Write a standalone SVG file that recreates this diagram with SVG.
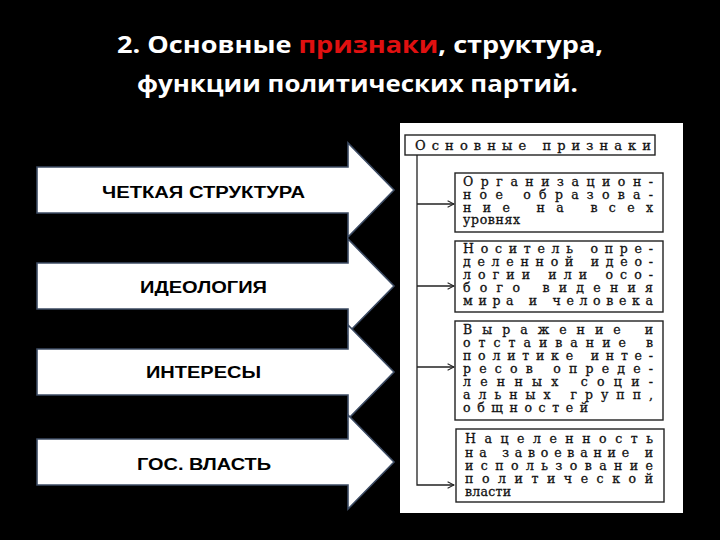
<svg xmlns="http://www.w3.org/2000/svg" width="720" height="540" viewBox="0 0 720 540">
<style>
.title{font-family:"Open Sans","Liberation Sans",sans-serif;font-weight:bold;font-size:24px;fill:#ffffff}
.arrow{fill:#ffffff;stroke:#3c4b63;stroke-width:1.6;stroke-linejoin:miter}
.alabel{font-family:"Liberation Sans",Arial,sans-serif;font-weight:bold;font-size:16px;fill:#000000}
.box{fill:#ffffff;stroke:#222222;stroke-width:1.4}
.bt{font-family:"DejaVu Serif","Liberation Serif",serif;font-size:12.5px;fill:#111111;stroke:#111111;stroke-width:0.3}
.hd{font-family:"DejaVu Serif","Liberation Serif",serif;font-size:13px;fill:#111111;stroke:#111111;stroke-width:0.3}
.conn{fill:none;stroke:#222222;stroke-width:1.3}
</style>
<defs>
<marker id="oa" viewBox="0 0 10 10" refX="9" refY="5" markerWidth="8" markerHeight="8" markerUnits="userSpaceOnUse" orient="auto">
<path d="M1,1 L9,5 L1,9" fill="none" stroke="#222222" stroke-width="1.3"/>
</marker>
</defs>
<rect x="0" y="0" width="720" height="540" fill="#000000"/>
<g id="title">
<text class="title" x="117" y="53" textLength="486" lengthAdjust="spacingAndGlyphs">2. Основные <tspan fill="#e01010">признаки</tspan>, структура,</text>
<text class="title" x="137" y="92" textLength="441" lengthAdjust="spacingAndGlyphs">функции политических партий.</text>
</g>
<g id="arrow1">
<path class="arrow" d="M37,167 H348 V143 L394,190 L348,237 V213 H37 Z"/>
<text class="alabel" x="102" y="198" textLength="203" lengthAdjust="spacingAndGlyphs">ЧЕТКАЯ СТРУКТУРА</text>
</g>
<g id="arrow2">
<path class="arrow" d="M37,263 H348 V239 L394,286 L348,333 V309 H37 Z"/>
<text class="alabel" x="140" y="293" textLength="127" lengthAdjust="spacingAndGlyphs">ИДЕОЛОГИЯ</text>
</g>
<g id="arrow3">
<path class="arrow" d="M37,349 H348 V325 L394,372 L348,419 V395 H37 Z"/>
<text class="alabel" x="146" y="378" textLength="115" lengthAdjust="spacingAndGlyphs">ИНТЕРЕСЫ</text>
</g>
<g id="arrow4">
<path class="arrow" d="M37,439 H348 V415 L394,462 L348,509 V485 H37 Z"/>
<text class="alabel" x="137" y="470" textLength="134" lengthAdjust="spacingAndGlyphs">ГОС. ВЛАСТЬ</text>
</g>
<rect x="400" y="123" width="283" height="390" fill="#ffffff"/>
<g id="connectors">
<path class="conn" d="M417,155 V485 H454" marker-end="url(#oa)"/>
<path class="conn" d="M417,204 H454" marker-end="url(#oa)"/>
<path class="conn" d="M417,286 H454" marker-end="url(#oa)"/>
<path class="conn" d="M417,367 H454" marker-end="url(#oa)"/>
</g>
<g id="header">
<rect class="box" x="405" y="135" width="250" height="20"/>
<text class="hd" x="415" y="150" textLength="236" lengthAdjust="spacing">Основные признаки</text>
</g>
<g id="box1">
<rect class="box" x="455" y="173" width="208" height="59"/>
<text class="bt" x="463" y="186" textLength="190" lengthAdjust="spacing">Организацион-</text>
<text class="bt" x="463" y="199" textLength="190" lengthAdjust="spacing">ное образова-</text>
<text class="bt" x="463" y="212" textLength="190" lengthAdjust="spacing">ние на всех</text>
<text class="bt" x="463" y="224" textLength="57" lengthAdjust="spacing">уровнях</text>
</g>
<g id="box2">
<rect class="box" x="455" y="241" width="208" height="71"/>
<text class="bt" x="463" y="253" textLength="190" lengthAdjust="spacing">Носитель опре-</text>
<text class="bt" x="463" y="266" textLength="190" lengthAdjust="spacing">деленной идео-</text>
<text class="bt" x="463" y="279" textLength="190" lengthAdjust="spacing">логии или осо-</text>
<text class="bt" x="463" y="292" textLength="190" lengthAdjust="spacing">бого видения</text>
<text class="bt" x="463" y="305" textLength="190" lengthAdjust="spacing">мира и человека</text>
</g>
<g id="box3">
<rect class="box" x="455" y="321" width="208" height="99"/>
<text class="bt" x="463" y="334" textLength="190" lengthAdjust="spacing">Выражение и</text>
<text class="bt" x="463" y="347" textLength="190" lengthAdjust="spacing">отстаивание в</text>
<text class="bt" x="463" y="360" textLength="190" lengthAdjust="spacing">политике инте-</text>
<text class="bt" x="463" y="373" textLength="190" lengthAdjust="spacing">ресов опреде-</text>
<text class="bt" x="463" y="386" textLength="190" lengthAdjust="spacing">ленных соци-</text>
<text class="bt" x="463" y="399" textLength="190" lengthAdjust="spacing">альных групп,</text>
<text class="bt" x="463" y="412" textLength="125" lengthAdjust="spacing">общностей</text>
</g>
<g id="box4">
<rect class="box" x="456" y="429" width="208" height="73"/>
<text class="bt" x="465" y="443" textLength="188" lengthAdjust="spacing">Нацеленность</text>
<text class="bt" x="465" y="457" textLength="188" lengthAdjust="spacing">на завоевание и</text>
<text class="bt" x="465" y="470" textLength="188" lengthAdjust="spacing">использование</text>
<text class="bt" x="465" y="483" textLength="188" lengthAdjust="spacing">политической</text>
<text class="bt" x="465" y="496" textLength="46" lengthAdjust="spacing">власти</text>
</g>
</svg>
